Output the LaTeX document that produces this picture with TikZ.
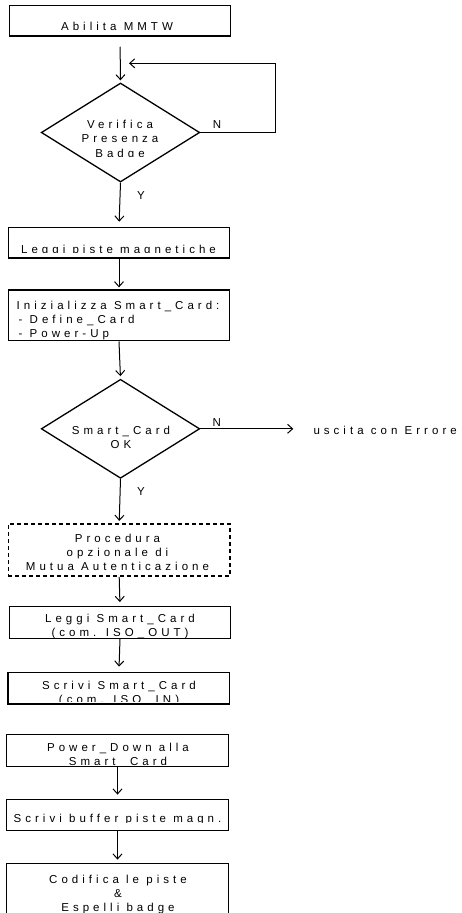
\documentclass[tikz,border=0pt]{standalone}
\usepackage{fontspec}
\setmainfont{Liberation Sans}[LetterSpace=35]
\usetikzlibrary{arrows.meta,shapes.geometric}

\begin{document}
\begin{tikzpicture}[x=1pt,y=-1pt,
  box/.style={draw,line width=1.4pt,minimum width=221.5pt,inner sep=0pt},
  optbox/.style={box,line width=1.7pt,dash pattern=on 4pt off 3pt},
  test/.style={diamond,draw,line width=1.3pt,minimum width=158.5pt,minimum height=99pt,inner sep=0pt},
  txt/.style={font=\fontsize{11.5}{13.8}\selectfont,inner sep=0pt,align=center},
  arr/.style={-{Straight Barb[length=5pt,width=9pt]},line width=1pt,shorten >=3pt}
]
  \useasboundingbox (0,0) rectangle (461,913);

  % blocchi
  \node[box,minimum height=30.3pt] (abil) at (120,20.9) {};
  \node[test] (pres) at (120.5,132.5) {};
  \node[box,minimum height=30.7pt] (piste) at (119,242.7) {};
  \node[box,minimum height=50.7pt] (init) at (119,315.4) {};
  \node[test] (card) at (120.5,428.8) {};
  \node[optbox,minimum height=52.3pt] (mutua) at (119.2,549.9) {};
  \node[box,minimum height=31.6pt] (leggi) at (120,622.5) {};
  \node[box,minimum height=31.7pt] (scrivi) at (118.9,688.2) {};
  \node[box,minimum height=32.4pt] (down) at (117.5,750.5) {};
  \node[box,minimum height=31.4pt] (buffer) at (117.5,815) {};
  \node[box,minimum height=62pt] (codifica) at (117.5,894.3) {};

  % testi (base = ultima riga)
  \node[txt,anchor=base] (t-abil) at (117,30.7) {Abilita MMTW};
  \begin{scope}
    \clip (40,100) rectangle (200,156);
    \node[txt,anchor=base,font=\fontsize{11.5}{14.7}\selectfont] (t-pres) at (120,157.4)
      {Verifica\\Presenza\\Badge};
  \end{scope}
  \begin{scope}
    \clip (10,230) rectangle (228,252.5);
    \node[txt,anchor=base] (t-piste) at (118.5,253) {Leggi piste magnetiche};
  \end{scope}
  \begin{scope}
    \clip (10,292) rectangle (228,339.5);
    \node[txt,anchor=base west,align=left] (t-init) at (16.5,337.3)
      {Inizializza Smart\_Card:\\\hspace*{2pt}- Define\_Card\\\hspace*{2pt}- Power-Up};
  \end{scope}
  \node[txt,anchor=base] (t-card) at (121,448) {Smart\_Card\\OK};
  \node[txt,anchor=base west] (uscita) at (313.3,434) {uscita con Errore};
  \node[txt,anchor=base] (t-mutua) at (117.5,570)
    {Procedura\\opzionale di\\Mutua Autenticazione};
  \begin{scope}
    \clip (10,608) rectangle (229,637.3);
    \node[txt,anchor=base] (t-leggi) at (120,636.5) {Leggi Smart\_Card\\(com. ISO\_OUT)};
  \end{scope}
  \begin{scope}
    \clip (10,674) rectangle (228,701.7);
    \node[txt,anchor=base] (t-scrivi) at (119,703) {Scrivi Smart\_Card\\(com. ISO\_IN)};
  \end{scope}
  \begin{scope}
    \clip (8,736) rectangle (227,765);
    \node[txt,anchor=base] (t-down) at (118,765.7) {Power\_Down alla\\Smart\_Card};
  \end{scope}
  \begin{scope}
    \clip (8,801) rectangle (227,822.7);
    \node[txt,anchor=base] (t-buffer) at (117.5,822.3) {Scrivi buffer piste magn.};
  \end{scope}
  \node[txt,anchor=base] (t-codifica) at (118,911.5) {Codifica le piste\\\&\\Espelli badge};

  % etichette
  \node[txt] (n1) at (217,125) {N};
  \node[txt] (y1) at (141,196) {Y};
  \node[txt] (n2) at (216.7,422.3) {N};
  \node[txt] (y2) at (141,491.7) {Y};

  % collegamenti
  \coordinate (ritorno) at (129,63.3);
  \draw[arr,shorten <=10pt,shorten >=2pt] (abil.south) -- (pres.north);
  \draw[arr,shorten >=0pt] (pres.east) -- ++(74.7,0) |- (ritorno);
  \draw[arr,shorten >=5pt] (pres.south) -- (piste.north);
  \draw[arr,shorten >=2pt] (piste.south) -- (init.north);
  \draw[arr,shorten >=2.5pt] (init.south) -- (card.north);
  \draw[arr,shorten >=20pt] (card.east) -- (card.east -| uscita.west);
  \draw[arr,shorten >=2pt] (card.south) -- (mutua.north);
  \draw[arr,shorten >=4pt] (mutua.south) -- (leggi.north);
  \draw[arr,shorten >=5pt] (leggi.south) -- (scrivi.north);
  \draw[arr,shorten >=4pt] (down.south) -- (buffer.north);
  \draw[arr,shorten >=3pt] (buffer.south) -- (codifica.north);
\end{tikzpicture}
\end{document}
